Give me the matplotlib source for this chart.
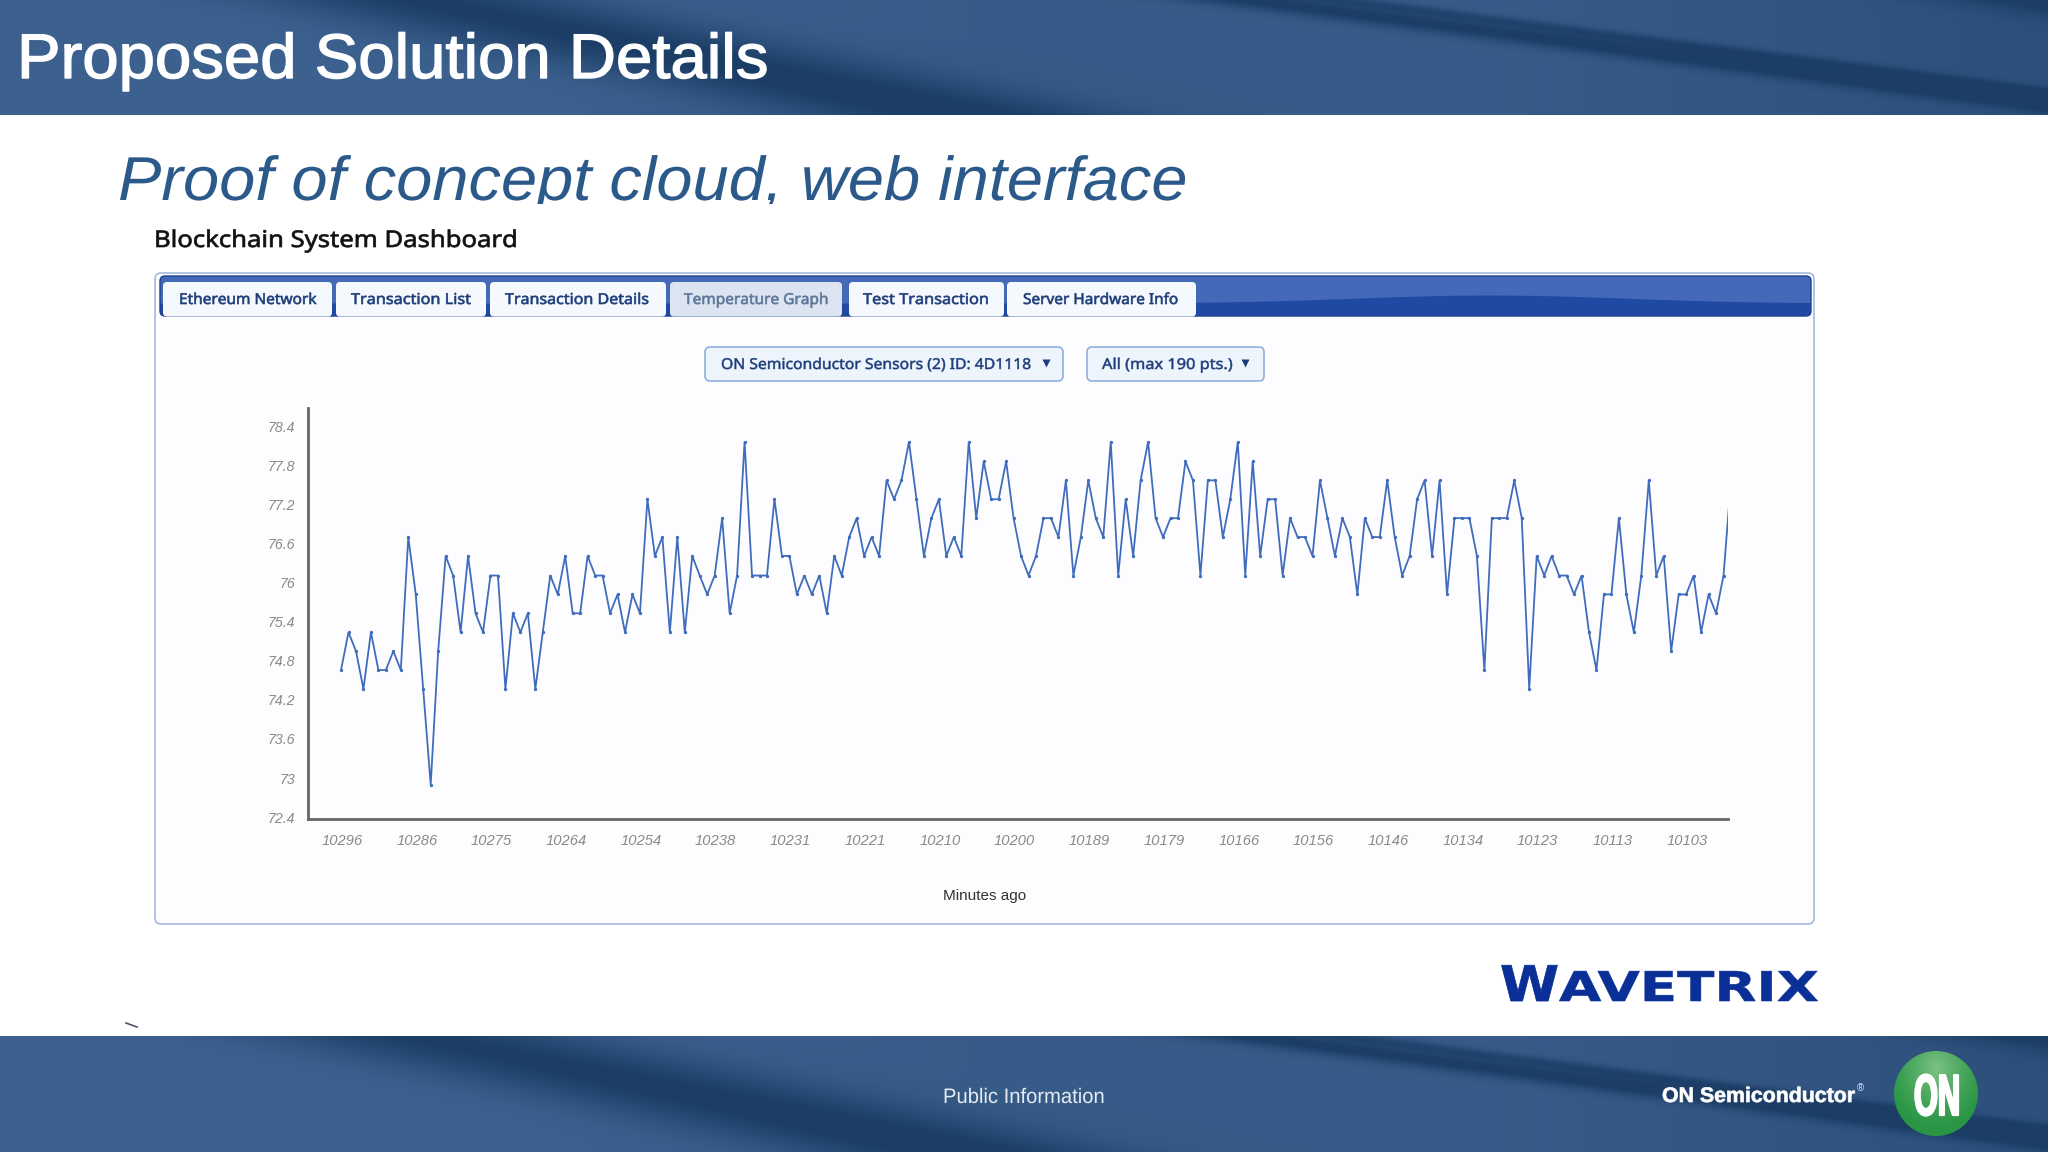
import numpy as np
import matplotlib
matplotlib.use("Agg")
import matplotlib.pyplot as plt
from matplotlib.patches import FancyBboxPatch, Ellipse, Rectangle
from matplotlib.patheffects import AbstractPathEffect
from matplotlib.transforms import Affine2D

# ---------- data ----------
temperature = [
    74.67,75.25,74.96,74.38,75.25,74.67,74.67,74.96,74.67,76.71,75.83,74.38,72.91,74.96,76.42,76.12,75.25,76.42,75.54,75.25,
    76.12,76.12,74.38,75.54,75.25,75.54,74.38,75.25,76.12,75.83,76.42,75.54,75.54,76.42,76.12,76.12,75.54,75.83,75.25,75.83,
    75.54,77.29,76.42,76.71,75.25,76.71,75.25,76.42,76.12,75.83,76.12,77.00,75.54,76.12,78.17,76.12,76.12,76.12,77.29,76.42,
    76.42,75.83,76.12,75.83,76.12,75.54,76.42,76.12,76.71,77.00,76.42,76.71,76.42,77.58,77.29,77.58,78.17,77.29,76.42,77.00,
    77.29,76.42,76.71,76.42,78.17,77.00,77.87,77.29,77.29,77.87,77.00,76.42,76.12,76.42,77.00,77.00,76.71,77.58,76.12,76.71,
    77.58,77.00,76.71,78.17,76.12,77.29,76.42,77.58,78.17,77.00,76.71,77.00,77.00,77.87,77.58,76.12,77.58,77.58,76.71,77.29,
    78.17,76.12,77.87,76.42,77.29,77.29,76.12,77.00,76.71,76.71,76.42,77.58,77.00,76.42,77.00,76.71,75.83,77.00,76.71,76.71,
    77.58,76.71,76.12,76.42,77.29,77.58,76.42,77.58,75.83,77.00,77.00,77.00,76.42,74.67,77.00,77.00,77.00,77.58,77.00,74.38,
    76.42,76.12,76.42,76.12,76.12,75.83,76.12,75.25,74.67,75.83,75.83,77.00,75.83,75.25,76.12,77.58,76.12,76.42,74.96,75.83,
    75.83,76.12,75.25,75.83,75.54,76.12,77.58,
]
x_tick_labels = ["10296","10286","10275","10264","10254","10238","10231","10221","10210","10200",
                 "10189","10179","10166","10156","10146","10134","10123","10113","10103"]
y_ticks = [72.4,73.0,73.6,74.2,74.8,75.4,76.0,76.6,77.2,77.8,78.4]
y_tick_labels = ["72.4","73","73.6","74.2","74.8","75.4","76","76.6","77.2","77.8","78.4"]
x_label = "Minutes ago"
tabs = ["Ethereum Network","Transaction List","Transaction Details","Temperature Graph","Test Transaction","Server Hardware Info"]

W, H = 2048, 1152
fig = plt.figure(figsize=(W/100, H/100), dpi=100, facecolor="white")
bg = fig.add_axes([0,0,1,1], zorder=0)
bg.set_axis_off()
renderer = fig.canvas.get_renderer()

class HStretch(AbstractPathEffect):
    def __init__(self, sx, x0, stroke=0, color="black"):
        super().__init__()
        self.sx, self.x0, self.stroke, self.color = sx, x0, stroke, color
    def draw_path(self, renderer, gc, tpath, affine, rgbFace=None):
        a = affine + Affine2D().translate(-self.x0,0).scale(self.sx,1).translate(self.x0,0)
        g = renderer.new_gc()
        g.copy_properties(gc)
        if self.stroke:
            g.set_foreground(self.color)
            g.set_linewidth(self.stroke)
        else:
            g.set_linewidth(0)
        renderer.draw_path(g, tpath, a, rgbFace)
        g.restore()

def label(x0, x1, y, s, px, color, z=5, stroke=0, **kw):
    t = bg.text(x0, y, s, fontsize=px*0.72, color=color, ha="left", va="baseline", zorder=z, **kw)
    w = t.get_window_extent(renderer).width
    t.set_path_effects([HStretch((x1-x0)/w, x0, stroke, color)])
    return t

# ---------- banner texture ----------
def banner(h=116):
    yy, xx = np.mgrid[0:h, 0:W].astype(float)
    t = 0.10 + 0.14*np.clip((xx-500)/500,0,1)
    t += 0.90*np.exp(-((xx-4.67*yy-420)/155)**2)
    t += 0.80*np.exp(-((xx-7.6*yy-1250)/70)**2)
    t += 0.50*np.exp(-((xx-7.6*yy-1345)/40)**2)
    t += 0.30*np.clip((xx-1500)/548,0,1)
    t += 0.60*np.exp(-((xx-6.5*yy-2050)/110)**2)
    t = np.clip(t,0,1)[...,None]
    L = np.array([0x40,0x65,0x93])/255
    D = np.array([0x1c,0x3e,0x66])/255
    return L*(1-t)+D*t

tex = banner()
bg.imshow(tex, extent=(0,W,115,0), aspect="auto", zorder=1, interpolation="bilinear")
bg.imshow(tex, extent=(0,W,H,1036), aspect="auto", zorder=1, interpolation="bilinear")
bg.set_xlim(0,W); bg.set_ylim(H,0)

# ---------- headings ----------
label(17, 768, 78, "Proposed Solution Details", 63, "white", stroke=1.0, family="Liberation Sans")
label(118, 1188, 200, "Proof of concept cloud, web interface", 62, "#2b5a8a", family="Liberation Sans", style="italic")
bg.add_patch(Rectangle((100,204),1200,22,fc="white",ec="none",zorder=6))
label(154, 518, 247, "Blockchain System Dashboard", 23, "#111111", stroke=0.5, family="Noto Sans")

# ---------- dashboard panel ----------
bg.add_patch(FancyBboxPatch((155,273),1659,651,boxstyle="round,pad=0,rounding_size=6",
                            fc="#fdfdff",ec="#9db3e0",lw=1.1,zorder=2))
barx0,barx1,bary0,bary1 = 160,1811,276,316
yy,xx = np.mgrid[bary0:bary1, barx0:barx1].astype(float)
edge = 303-8*np.exp(-((xx-1490)/190)**2)
m = np.clip(edge-yy+0.5,0,1)[...,None]
bar = np.array([0x44,0x69,0xb8])/255*m + np.array([0x1f,0x49,0xa3])/255*(1-m)
im = bg.imshow(bar, extent=(barx0,barx1,bary1,bary0), aspect="auto", zorder=3)
clip = FancyBboxPatch((barx0,bary0),barx1-barx0,bary1-bary0,boxstyle="round,pad=0,rounding_size=5",
                      fc="none",ec="#1d3f8f",lw=1,zorder=3.1)
bg.add_patch(clip); im.set_clip_path(clip)
bg.set_xlim(0,W); bg.set_ylim(H,0)

tab_boxes = [(163,332),(336,486),(490,666),(670,842),(849,1004),(1007,1196)]
tab_text = [(179,317),(351,471),(505,649),(684,829),(863,989),(1023,1179)]
for i,(name,(a,b),(c,d)) in enumerate(zip(tabs,tab_boxes,tab_text)):
    active = i==3
    bg.add_patch(FancyBboxPatch((a,282),b-a,34.5,boxstyle="round,pad=0,rounding_size=4",
                 fc="#dbe4f0" if active else "#f5f8fd",ec="none",zorder=4))
    label(c,d,304,name,15,"#5d7699" if active else "#1d3d7a",stroke=0.45,family="Noto Sans")

for (a,b,c,d,ax_,s) in [(705,1063,721,1032,1046,"ON Semiconductor Sensors (2) ID: 4D1118"),
                        (1087,1264,1102,1233,1245,"All (max 190 pts.)")]:
    bg.add_patch(FancyBboxPatch((a,347),b-a,34,boxstyle="round,pad=0,rounding_size=5",
                 fc="#eef4fc",ec="#8fb0dc",lw=1.2,zorder=4))
    label(c,d,369,s,15,"#1d3d7a",stroke=0.35,family="Noto Sans")
    bg.plot([ax_],[363],marker="v",ms=5.2,color="#1d3d7a",mec="none",zorder=5)

# ---------- chart ----------
ax = fig.add_axes([308/W,(H-819)/H,1420/W,411/H],zorder=1,facecolor="none")
xs = np.arange(len(temperature))
ax.plot(xs,temperature,color="#3f6cbc",lw=1.3,marker="o",ms=2.4,mew=0,solid_joinstyle="miter")
ax.set_xlim(-4.42,185.6)
ax.set_ylim(72.385,78.69)
ax.set_xticks(xs[::10][:len(x_tick_labels)],x_tick_labels)
ax.set_yticks(y_ticks,y_tick_labels)
ax.tick_params(length=0,labelcolor="#8a8a8a")
ax.tick_params(axis="x",pad=11,labelsize=10.6)
ax.tick_params(axis="y",pad=9,labelsize=10.2)
for l in ax.get_xticklabels()+ax.get_yticklabels():
    l.set_family("Liberation Sans"); l.set_style("italic")
for s in ("top","right"):
    ax.spines[s].set_visible(False)
for s in ("left","bottom"):
    ax.spines[s].set_color("#666666"); ax.spines[s].set_linewidth(2)
ax.set_xlabel(x_label,fontsize=11,color="#333333",family="Liberation Sans",va="center")
ax.xaxis.set_label_coords((985-308)/1420,(819-896.3)/411)
fig.canvas.draw()
for l in ax.get_xticklabels():
    l.set_transform(l.get_transform()+Affine2D().translate(1,0))
for l in ax.get_yticklabels():
    l.set_transform(l.get_transform()+Affine2D().translate(0,0.8))

# ---------- logos and footer ----------
logo = "#0a2f96"
label(1500,1559,1001,"W",49,logo,stroke=0.6,family="DejaVu Sans",weight="bold")
label(1559,1819,1001,"AVETRIX",41,logo,stroke=0.4,family="DejaVu Sans",weight="bold")
label(943,1105,1103,"Public Information",21,"#e6ebf4",family="Liberation Sans")
label(1662,1855,1102,"ON Semiconductor",21,"white",stroke=0.5,family="Liberation Sans",weight="bold")
bg.text(1857,1091,"®",fontsize=7,color="#d8e0ea",family="Liberation Sans",ha="left",va="baseline",zorder=5)
bg.plot([126,137],[1023,1027],color="#4a5568",lw=1.2,zorder=3)

cy,cx = np.mgrid[1050:1138,1893:1980].astype(float)
d = np.clip(np.hypot((cx-1936)/52,(cy-1068)/60),0,1)[...,None]
g = np.array([0x7c,0xc2,0x84])/255*(1-d)**1.3 + np.array([0x2a,0x96,0x45])/255*(1-(1-d)**1.3)
gi = bg.imshow(g,extent=(1893,1980,1138,1050),aspect="auto",zorder=3)
e = Ellipse((1936,1093.5),84,85,fc="none",ec="none",zorder=3)
bg.add_patch(e); gi.set_clip_path(e)
bg.set_xlim(0,W); bg.set_ylim(H,0)
label(1914,1960,1115,"ON",58,"white",stroke=1.6,family="Liberation Sans",weight="bold")

fig.savefig("out.png",dpi=100)
